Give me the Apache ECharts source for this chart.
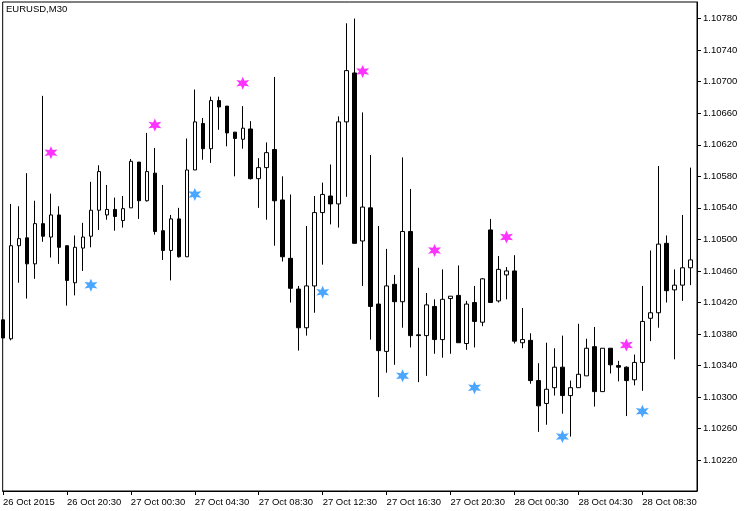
<!DOCTYPE html>
<html><head><meta charset="utf-8">
<script src="https://cdn.jsdelivr.net/npm/echarts@6/dist/echarts.min.js"></script>
<style>html,body{margin:0;padding:0;background:#fff}#c{width:750px;height:511px}</style>
</head><body><div id="c"></div>
<script>
// EURUSD M30 candles, bar 0 = 26 Oct 2015 16:30
const opens = [1.10398,1.10374,1.10492,1.10502,1.10469,1.10520,1.10503,1.10531,1.10492,1.10445,
1.10489,1.10504,1.10537,1.10531,1.10538,1.10524,1.10540,1.10598,1.10549,1.10584,
1.10511,1.10486,1.10526,1.10478,1.10588,1.10647,1.10615,1.10676,1.10669,1.10636,
1.10627,1.10640,1.10577,1.10591,1.10614,1.10550,1.10476,1.10437,1.10388,1.10441,
1.10534,1.10555,1.10545,1.10649,1.10711,1.10498,1.10540,1.10418,1.10358,1.10443,
1.10421,1.10510,1.10379,1.10378,1.10415,1.10373,1.10425,1.10429,1.10368,1.10420,
1.10395,1.10512,1.10422,1.10455,1.10460,1.10369,1.10372,1.10321,1.10292,1.10312,
1.10338,1.10302,1.10312,1.10327,1.10364,1.10307,1.10362,1.10340,1.10338,1.10322,
1.10344,1.10400,1.10407,1.10495,1.10436,1.10442,1.10464];
const closes = [1.10375,1.10492,1.10501,1.10469,1.10520,1.10504,1.10531,1.10490,1.10448,1.10490,
1.10503,1.10537,1.10586,1.10538,1.10529,1.10539,1.10599,1.10549,1.10586,1.10510,
1.10486,1.10526,1.10478,1.10588,1.10649,1.10615,1.10676,1.10668,1.10635,1.10628,
1.10641,1.10577,1.10591,1.10610,1.10549,1.10478,1.10438,1.10388,1.10441,1.10534,
1.10557,1.10545,1.10649,1.10714,1.10495,1.10541,1.10415,1.10359,1.10441,1.10421,
1.10510,1.10378,1.10378,1.10417,1.10373,1.10424,1.10428,1.10369,1.10418,1.10396,
1.10450,1.10420,1.10462,1.10460,1.10371,1.10373,1.10321,1.10289,1.10310,1.10338,
1.10302,1.10312,1.10329,1.10362,1.10307,1.10362,1.10341,1.10338,1.10321,1.10344,
1.10396,1.10407,1.10494,1.10435,1.10442,1.10464,1.10474];
const lows = [1.10375,1.10372,1.10445,1.10425,1.10450,1.10497,1.10477,1.10469,1.10416,1.10429,
1.10460,1.10490,1.10512,1.10525,1.10511,1.10515,1.10540,1.10526,1.10548,1.10506,
1.10474,1.10448,1.10477,1.10478,1.10588,1.10601,1.10597,1.10639,1.10618,1.10580,
1.10615,1.10576,1.10540,1.10525,1.10492,1.10472,1.10420,1.10359,1.10378,1.10407,
1.10468,1.10519,1.10515,1.10554,1.10495,1.10441,1.10373,1.10300,1.10331,1.10341,
1.10388,1.10363,1.10319,1.10327,1.10355,1.10350,1.10355,1.10369,1.10360,1.10363,
1.10390,1.10420,1.10420,1.10424,1.10368,1.10362,1.10317,1.10256,1.10265,1.10302,
1.10279,1.10250,1.10312,1.10327,1.10288,1.10307,1.10330,1.10320,1.10276,1.10315,
1.10308,1.10371,1.10388,1.10420,1.10348,1.10422,1.10442];
const highs = [1.10399,1.10545,1.10542,1.10584,1.10549,1.10682,1.10558,1.10542,1.10492,1.10505,
1.10521,1.10573,1.10594,1.10569,1.10553,1.10555,1.10602,1.10598,1.10635,1.10616,
1.10569,1.10531,1.10540,1.10628,1.10690,1.10654,1.10681,1.10681,1.10669,1.10636,
1.10669,1.10650,1.10603,1.10623,1.10706,1.10580,1.10557,1.10441,1.10517,1.10555,
1.10572,1.10595,1.10656,1.10774,1.10780,1.10661,1.10607,1.10517,1.10488,1.10455,
1.10604,1.10564,1.10464,1.10432,1.10424,1.10462,1.10428,1.10467,1.10422,1.10441,
1.10451,1.10526,1.10479,1.10465,1.10480,1.10413,1.10381,1.10343,1.10369,1.10362,
1.10378,1.10321,1.10393,1.10374,1.10389,1.10362,1.10362,1.10346,1.10339,1.10354,
1.10441,1.10486,1.10593,1.10505,1.10462,1.10531,1.10591];

// arrow markers (magenta above, blue below)
const magentaIdx = [6,19,30,45,54,63,78];
const magentaVals = [1.10610,1.10645,1.10698,1.10713,1.10486,1.10503,1.10366];
const blueIdx = [11,24,40,50,59,70,80];
const blueVals = [1.10442,1.10557,1.10433,1.10327,1.10312,1.10250,1.10282];

const xTickIdx = [0,8,16,24,32,40,48,56,64,72,80];
const xTickLabels = ["26 Oct 2015","26 Oct 20:30","27 Oct 00:30","27 Oct 04:30","27 Oct 08:30",
"27 Oct 12:30","27 Oct 16:30","27 Oct 20:30","28 Oct 00:30","28 Oct 04:30","28 Oct 08:30"];
const yTicks = [1.10220,1.10260,1.10300,1.10340,1.10380,1.10420,1.10460,1.10500,1.10540,
1.10580,1.10620,1.10660,1.10700,1.10740,1.10780];

function starPath(){
  let p = [];
  for (let k = 0; k < 12; k++) {
    const a = (-90 + k*30) * Math.PI/180;
    const r = (k % 2 === 0) ? 10 : 4.6;
    p.push((k ? 'L' : 'M') + (r*Math.cos(a)).toFixed(3) + ' ' + (r*Math.sin(a)).toFixed(3));
  }
  return 'path://' + p.join(' ') + ' Z';
}
const STAR = starPath();
const FONT = 'Liberation Sans';

const chart = echarts.init(document.getElementById('c'));
chart.setOption({
  animation: false,
  backgroundColor: '#fff',
  title: {text: 'EURUSD,M30', left: 6, top: 4, padding: 0,
    textStyle: {fontSize: 9.5, fontWeight: 'normal', fontFamily: FONT, color: '#000'}},
  grid: {left: 2, right: 53, top: 2, bottom: 20, show: true, borderColor: '#000', borderWidth: 1},
  xAxis: {
    type: 'value', min: -0.04, max: 86.84,
    axisLine: {show: true, onZero: false, lineStyle: {color: '#000', width: 1}},
    axisTick: {show: true, customValues: xTickIdx, length: 4, lineStyle: {color: '#000'}},
    axisLabel: {customValues: xTickIdx, align: 'left', margin: 6, fontSize: 9.5, fontFamily: FONT, color: '#000',
      formatter: v => xTickLabels[xTickIdx.indexOf(Math.round(v))] || ''},
    splitLine: {show: false}
  },
  yAxis: {
    type: 'value', position: 'right', min: 1.10181, max: 1.10801,
    axisLine: {show: true, onZero: false, lineStyle: {color: '#000', width: 1}},
    axisTick: {show: true, customValues: yTicks, length: 4, lineStyle: {color: '#000'}},
    axisLabel: {customValues: yTicks, margin: 6, fontSize: 9.5, fontFamily: FONT, color: '#000',
      formatter: v => Number(v).toFixed(5)},
    splitLine: {show: false}
  },
  series: [
    {
      type: 'candlestick',
      data: opens.map((o, i) => [i, o, closes[i], lows[i], highs[i]]),
      encode: {x: 0, y: [1, 2, 3, 4]},
      barWidth: 4,
      clip: true,
      itemStyle: {color: '#fff', color0: '#000', borderColor: '#000', borderColor0: '#000', borderWidth: 1}
    },
    {
      type: 'scatter', symbol: STAR, symbolSize: 13, z: 5,
      data: magentaIdx.map((x, j) => [x, magentaVals[j]]),
      itemStyle: {color: '#FF00FF'}
    },
    {
      type: 'scatter', symbol: STAR, symbolSize: 13, z: 5,
      data: blueIdx.map((x, j) => [x, blueVals[j]]),
      itemStyle: {color: '#1E90FF'}
    }
  ]
});
</script>
</body></html>
